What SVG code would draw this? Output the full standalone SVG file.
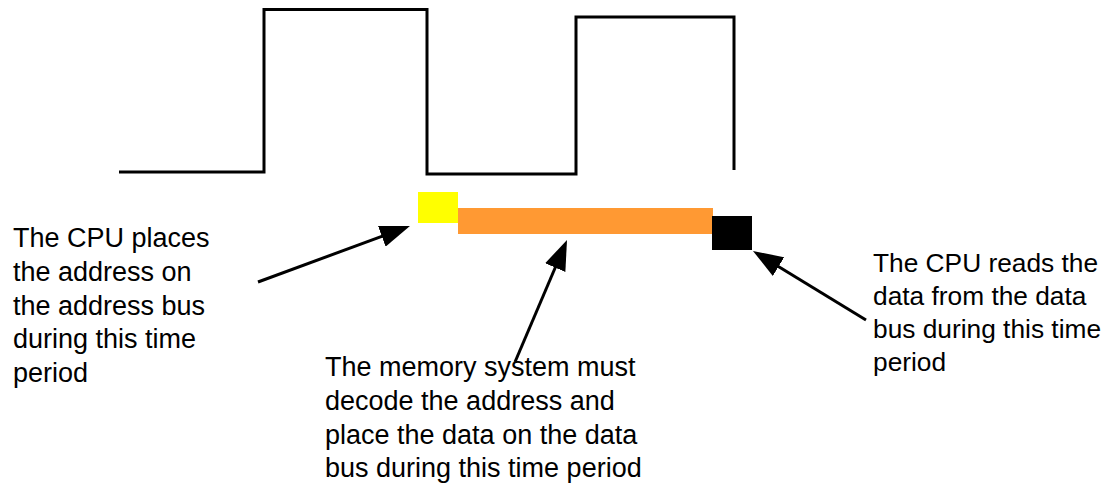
<svg xmlns="http://www.w3.org/2000/svg" width="1111" height="484" viewBox="0 0 1111 484">
  <style>
    .lbl { font-family: "Liberation Sans", Arial, sans-serif; font-size: 27px; fill: #000; }
    .lbl-r { font-size: 26.3px; }
    .wave { fill: none; stroke: #000; stroke-width: 3; stroke-linejoin: miter; }
    .conn { fill: none; stroke: #000; stroke-width: 3; marker-end: url(#arrow); }
  </style>
  <defs>
    <marker id="arrow" viewBox="0 0 30 22" markerWidth="30" markerHeight="22" markerUnits="userSpaceOnUse" refX="5" refY="11" orient="auto">
      <path d="M0,0 L30,11 L0,22 z" fill="#000"/>
    </marker>
  </defs>
  <rect width="1111" height="484" fill="#fff"/>

  <g id="clock">
    <path class="wave" d="M119,172 H264 V9.5 H427 V174 H576 V17 H734 V170"/>
  </g>

  <g id="address-period">
    <rect x="418" y="192" width="40" height="31" fill="#ffff00"/>
  </g>
  <g id="decode-period">
    <rect x="458" y="208" width="255" height="26" fill="#ff9933"/>
  </g>
  <g id="read-period">
    <rect x="712" y="216" width="40" height="34" fill="#000"/>
  </g>

  <g id="label-cpu-address">
    <text class="lbl" x="13" y="247">The CPU places</text>
    <text class="lbl" x="13" y="281">the address on</text>
    <text class="lbl" x="13" y="315">the address bus</text>
    <text class="lbl" x="13" y="348">during this time</text>
    <text class="lbl" x="13" y="382">period</text>
  </g>

  <g id="label-memory">
    <text class="lbl" x="325" y="376">The memory system must</text>
    <text class="lbl" x="325" y="410">decode the address and</text>
    <text class="lbl" x="325" y="444">place the data on the data</text>
    <text class="lbl" x="325" y="477">bus during this time period</text>
  </g>

  <g id="label-cpu-read">
    <text class="lbl lbl-r" x="873" y="272">The CPU reads the</text>
    <text class="lbl lbl-r" x="873" y="305">data from the data</text>
    <text class="lbl lbl-r" x="873" y="338">bus during this time</text>
    <text class="lbl lbl-r" x="873" y="371">period</text>
  </g>

  <g id="connectors">
    <path class="conn" d="M258,282 L386.5,234.6"/>
    <path class="conn" d="M515,362 L557.2,263"/>
    <path class="conn" d="M866,320 L774.3,264"/>
  </g>
</svg>
